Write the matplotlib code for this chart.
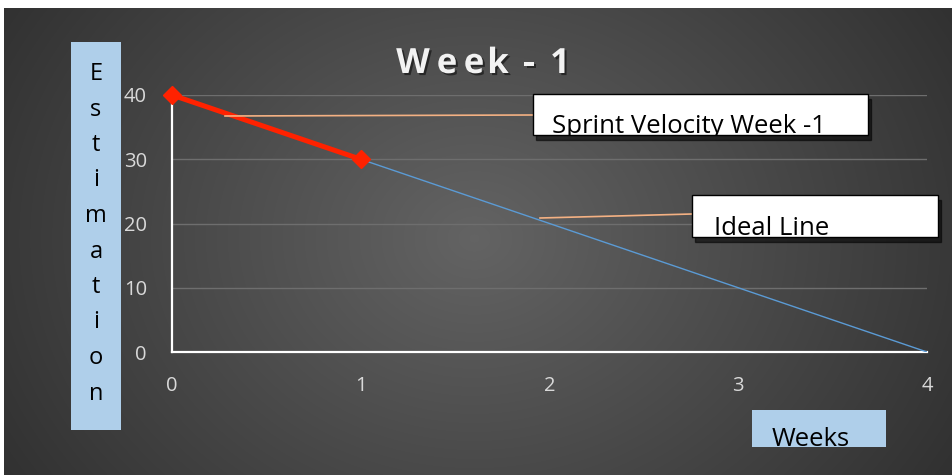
import matplotlib.pyplot as plt
import matplotlib.patheffects as pe
import numpy as np
from matplotlib.patches import Rectangle
from matplotlib.lines import Line2D

weeks = [0, 1, 2, 3, 4]
ideal = [40, 30, 20, 10, 0]
sprint_weeks = [0, 1]
sprint = [40, 30]
y_ticks = [0, 10, 20, 30, 40]

W, H = 953, 475
fig = plt.figure(figsize=(W / 100, H / 100), dpi=100)
fig.patch.set_facecolor('white')

def px(x, y):
    # figure pixel (from top-left) -> figure fraction
    return x / W, 1 - y / H

# radial gradient background
bg = fig.add_axes([4 / W, 0, 1 - 4 / W, 1 - 8 / H], zorder=-10)
yy, xx = np.mgrid[0:467, 0:949]
r = np.sqrt(((xx - 470) / 560.0) ** 2 + ((yy - 230) / 460.0) ** 2)
shade = np.clip(0.39 - 0.2 * r, 0.18, 0.4)
bg.imshow(np.dstack([shade] * 3), aspect='auto', interpolation='bilinear')
bg.axis('off')

ax = fig.add_axes([172 / W, 123 / H, 755 / W, 257 / H])
ax.set_facecolor('none')
ax.plot(weeks, ideal, color='#5B9BD5', lw=1.0, zorder=3)
ax.plot(sprint_weeks, sprint, color='#FF2200', lw=3.6, marker='D', ms=9,
        zorder=4, clip_on=False)
ax.set_xlim(0, 4)
ax.set_ylim(0, 40)
ax.set_xticks(weeks)
ax.set_yticks(y_ticks)
ax.tick_params(length=0, colors='#D9D9D9', labelsize=14.5)
ax.tick_params(axis='y', pad=18)
ax.tick_params(axis='x', pad=17)
for lab in ax.get_xticklabels() + ax.get_yticklabels():
    lab.set_family('Open Sans')
ax.grid(axis='y', color='#6E6E6E', lw=1.0)
ax.set_axisbelow(True)
for s in ['top', 'right']:
    ax.spines[s].set_visible(False)
for s in ['left', 'bottom']:
    ax.spines[s].set_color('white')
    ax.spines[s].set_linewidth(1.6)

# title with letter spacing
title_chars = ['W', 'e', 'e', 'k', '-', '1']
title_x = [413, 447, 474, 498, 529, 560]
shadow = [pe.SimplePatchShadow(offset=(1.5, -1.5), shadow_rgbFace='black',
                               alpha=0.5), pe.Normal()]
for ch, cx in zip(title_chars, title_x):
    fig.text(*px(cx, 64), ch, ha='center', va='center', fontsize=25,
             fontweight='bold', family='Open Sans', color='#F2F2F2',
             path_effects=shadow)

# leader lines
fig.lines.append(Line2D([225 / W, 533 / W], [1 - 116 / H, 1 - 115 / H],
                        transform=fig.transFigure, color='#F4B183', lw=1.2))
fig.lines.append(Line2D([540 / W, 692 / W], [1 - 218 / H, 1 - 214 / H],
                        transform=fig.transFigure, color='#F4B183', lw=1.2))

def label_box(x0, y0, x1, y1, text, tx, ty, fc, shadow=True, size=18.5):
    fx, fy = px(x0, y1)
    w, h = (x1 - x0) / W, (y1 - y0) / H
    if shadow:
        fig.patches.append(Rectangle((fx + 3 / W, fy - 5 / H), w, h,
                                     transform=fig.transFigure,
                                     color='black', alpha=0.55, zorder=5))
    box = Rectangle((fx, fy), w, h, transform=fig.transFigure, fc=fc,
                    ec='black' if shadow else 'none', lw=1.0, zorder=6)
    fig.patches.append(box)
    t = fig.text(*px(tx, ty), text, ha='left', va='baseline', fontsize=size,
                 family='Open Sans', color='black', zorder=7)
    t.set_clip_path(box)

label_box(533, 94, 868, 135, 'Sprint Velocity Week -1', 552, 133, 'white')
label_box(692, 195, 938, 237, 'Ideal Line', 714, 235, 'white')
label_box(752, 410, 886, 447, 'Weeks', 772, 446, '#AFCFEA', shadow=False)

# vertical y label
fig.patches.append(Rectangle(px(71, 430), 50 / W, 388 / H,
                             transform=fig.transFigure, fc='#AFCFEA',
                             ec='none', zorder=5))
letters = list('Estimation')
for i, ch in enumerate(letters):
    fig.text(*px(96, 74 + i * 35.5), ch, ha='center', va='center',
             fontsize=17, family='Open Sans', color='black', zorder=6)

fig.savefig('out.png', dpi=100)
